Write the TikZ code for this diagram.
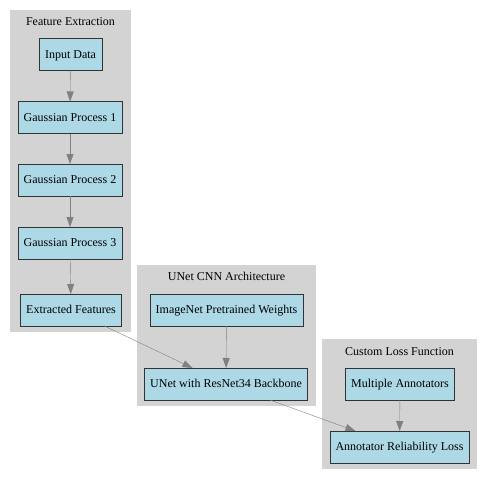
\documentclass[tikz,border=0pt]{standalone}
\usepackage{fontspec}
\setmainfont{Liberation Serif}
\usetikzlibrary{arrows.meta}
\definecolor{boxblue}{HTML}{ADD8E6}
\definecolor{clustergray}{HTML}{D3D3D3}
\definecolor{edgegray}{HTML}{808080}

\begin{document}
\begin{tikzpicture}[x=1pt,y=-1pt,
    block/.style={draw=black!80,fill=boxblue,inner xsep=5.8pt,minimum height=32pt,
      outer sep=0pt,text depth=0.5pt,font=\fontsize{12}{14}\selectfont},
    title/.style={font=\fontsize{12}{14}\selectfont},
    flow/.style={draw=edgegray,-{Triangle[length=10pt,width=7pt]}}]
  \useasboundingbox (0,0) rectangle (487,480);

  % clusters
  \fill[clustergray] (10,10) rectangle (131,332);
  \fill[clustergray] (137,265) rectangle (316,406);
  \fill[clustergray] (322,339) rectangle (477,469);

  \node[title](t1) at (70.5,21.5) {Feature Extraction};
  \node[title](t2) at (226.5,276.5) {UNet CNN Architecture};
  \node[title](t3) at (399.5,351.5) {Custom Loss Function};

  % feature extraction
  \node[block](in) at (70.5,54.5) {Input Data};
  \node[block](g1) at (70,117.5) {Gaussian Process 1};
  \node[block](g2) at (70,180) {Gaussian Process 2};
  \node[block](g3) at (70,243) {Gaussian Process 3};
  \node[block](ef) at (71,310) {Extracted Features};

  % unet
  \node[block](iw) at (226.5,310) {ImageNet Pretrained Weights};
  \node[block](un) at (226,384) {UNet with ResNet34 Backbone};

  % loss
  \node[block](ma) at (400,384) {Multiple Annotators};
  \node[block](ar) at (399.5,447) {Annotator Reliability Loss};

  \draw[flow] (in) -- (g1);
  \draw[flow] (g1) -- (g2);
  \draw[flow] (g2) -- (g3);
  \draw[flow] (g3) -- (ef);
  \draw[flow] (iw) -- (un);
  \draw[flow] (ma) -- (ar);
  \draw[flow] (ef) -- (un);
  \draw[flow] (un) -- (ar);
\end{tikzpicture}
\end{document}
